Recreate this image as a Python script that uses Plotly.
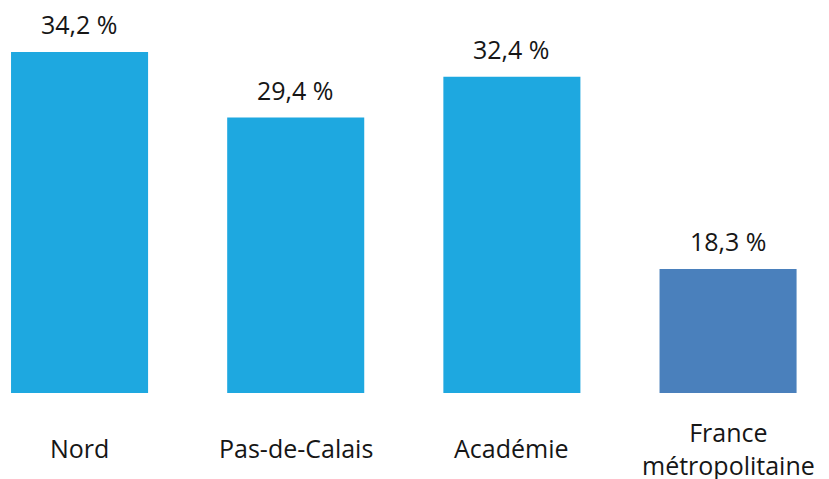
import plotly.graph_objects as go

categories = ["Nord", "Pas-de-Calais", "Académie", "France<br>métropolitaine"]
values = [34.2, 29.4, 32.4, 18.3]
value_labels = ["34,2 %", "29,4 %", "32,4 %", "18,3 %"]
bar_colors = ["#1EA8E0", "#1EA8E0", "#1EA8E0", "#4A80BC"]

font_family = "'Open Sans', Lato, sans-serif"

fig = go.Figure(
    go.Bar(
        x=categories,
        y=values,
        marker=dict(color=bar_colors, line=dict(width=0)),
        width=0.634,
        hoverinfo="skip",
    )
)

# value labels above bars
for cat, val, lab in zip(categories, values, value_labels):
    fig.add_annotation(
        x=cat, y=val, text=lab, showarrow=False,
        yanchor="middle", yshift=28,
        font=dict(size=25, color="#161616", family=font_family),
    )

# category labels below the bars
for cat in categories:
    fig.add_annotation(
        x=cat, y=-0.143, yref="paper", text=cat, showarrow=False,
        yanchor="middle",
        font=dict(size=25, color="#161616", family=font_family),
    )

fig.update_layout(
    width=829,
    height=479,
    margin=dict(l=0, r=0, t=0, b=94),
    plot_bgcolor="white",
    paper_bgcolor="white",
    showlegend=False,
    xaxis=dict(range=[-0.331, 3.504], showticklabels=False, showgrid=False,
               zeroline=False, showline=False, ticks=""),
    yaxis=dict(range=[9.22, 37.43], visible=False),
)

fig.write_html("out.html")
